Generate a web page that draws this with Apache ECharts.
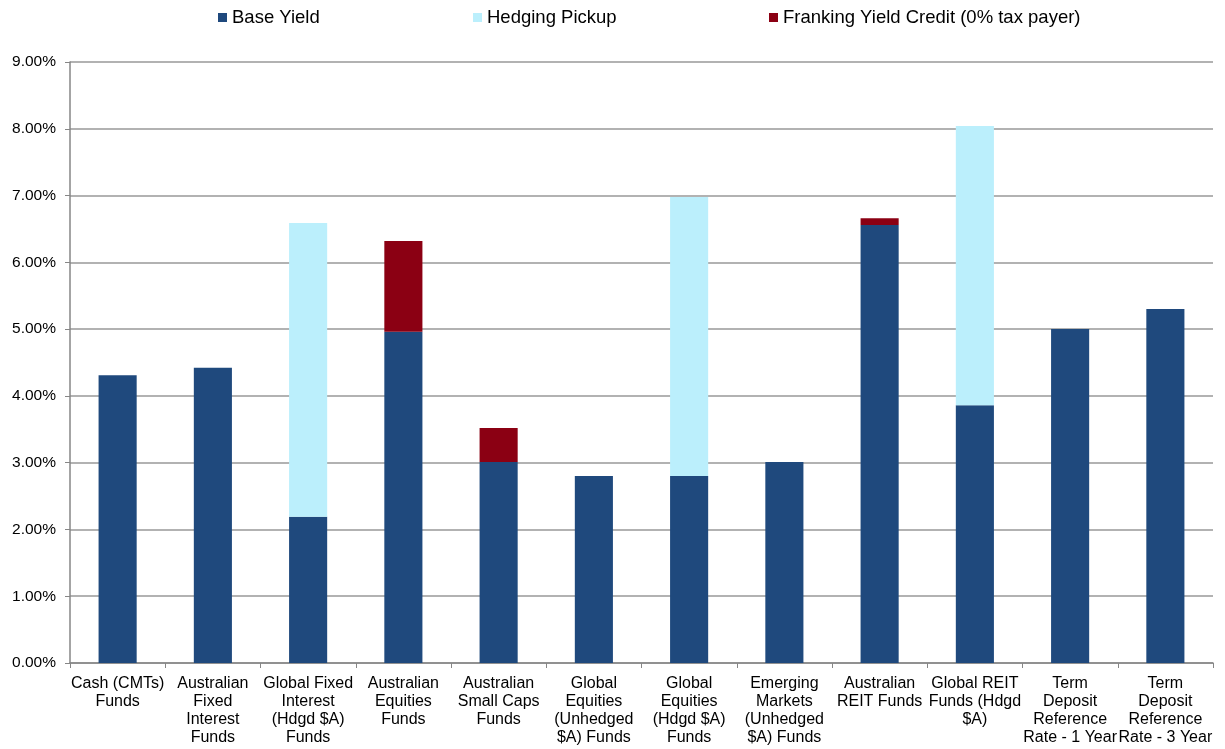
<!DOCTYPE html>
<html>
<head>
<meta charset="utf-8">
<script src="https://cdn.jsdelivr.net/npm/echarts@6/dist/echarts.min.js"></script>
<style>
  html, body { margin: 0; padding: 0; background: #fff; }
  #chart { width: 1225px; height: 749px; }
</style>
</head>
<body>
<div id="chart"></div>
<script>
// categories, wrapped as in the original
var categories = [
    'Cash (CMTs)\nFunds',
    'Australian\nFixed\nInterest\nFunds',
    'Global Fixed\nInterest\n(Hdgd $A)\nFunds',
    'Australian\nEquities\nFunds',
    'Australian\nSmall Caps\nFunds',
    'Global\nEquities\n(Unhedged\n$A) Funds',
    'Global\nEquities\n(Hdgd $A)\nFunds',
    'Emerging\nMarkets\n(Unhedged\n$A) Funds',
    'Australian\nREIT Funds',
    'Global REIT\nFunds (Hdgd\n$A)',
    'Term\nDeposit\nReference\nRate - 1 Year',
    'Term\nDeposit\nReference\nRate - 3 Year'
];
// values in percent
var baseYield = [4.31, 4.42, 2.19, 4.96, 3.01, 2.80, 2.80, 3.01, 6.56, 3.86, 5.00, 5.30];
var hedgingPickup = [null, null, 4.40, null, null, null, 4.18, null, null, 4.18, null, null];
var frankingCredit = [null, null, null, 1.36, 0.51, null, null, null, 0.10, null, null, null];

var font = 'Liberation Sans, Arial, sans-serif';
var chart = echarts.init(document.getElementById('chart'));

//每个图例单独放置，位置和原图一致
function legendAt(name, left) {
    return {
        data: [name],
        left: left,
        top: 8,
        padding: 0,
        itemWidth: 9,
        itemHeight: 9,
        itemGap: 0,
        selectedMode: false,
        icon: 'rect',
        textStyle: { fontFamily: font, fontSize: 18.5, color: '#000' }
    };
}

chart.setOption({
    animation: false,
    legend: [
        legendAt('Base Yield', 218),
        legendAt('Hedging Pickup', 473),
        legendAt('Franking Yield Credit (0% tax payer)', 769)
    ],
    grid: { left: 70, right: 12, top: 62, bottom: 86, containLabel: false },
    xAxis: {
        type: 'category',
        data: categories,
        axisLine: { lineStyle: { color: '#868686', width: 1.5 } },
        axisTick: { show: true, length: 5, lineStyle: { color: '#868686' } },
        axisLabel: {
            interval: 0,
            color: '#000',
            fontFamily: font,
            fontSize: 16,
            lineHeight: 18.3,
            margin: 11
        }
    },
    yAxis: {
        type: 'value',
        min: 0,
        max: 9,
        interval: 1,
        axisLine: { show: true, lineStyle: { color: '#868686', width: 1.5 } },
        axisTick: { show: true, length: 5, lineStyle: { color: '#868686' } },
        splitLine: { lineStyle: { color: '#999', width: 1.5 } },
        axisLabel: {
            color: '#000',
            fontFamily: font,
            fontSize: 15.5,
            margin: 14,
            formatter: function (v) { return v.toFixed(2) + '%'; }
        }
    },
    series: [
        {
            name: 'Base Yield', type: 'bar', stack: 'yield', data: baseYield,
            barWidth: '40%', itemStyle: { color: '#1F497D' }
        },
        {
            name: 'Hedging Pickup', type: 'bar', stack: 'yield', data: hedgingPickup,
            barWidth: '40%', itemStyle: { color: '#BBEFFC' }
        },
        {
            name: 'Franking Yield Credit (0% tax payer)', type: 'bar', stack: 'yield', data: frankingCredit,
            barWidth: '40%', itemStyle: { color: '#8B0013' }
        }
    ]
});
</script>
</body>
</html>
